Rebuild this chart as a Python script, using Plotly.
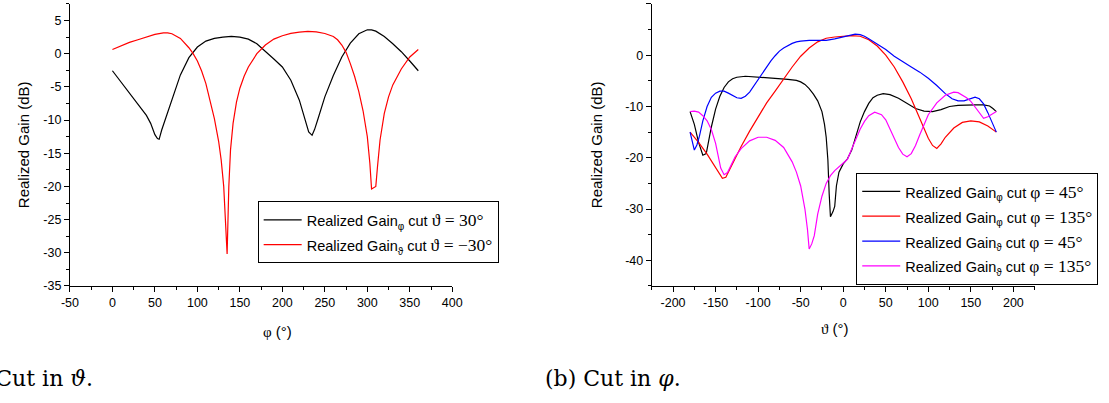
import plotly.graph_objects as go

# ---------------- data: left panel (cut in theta) ----------------
phi_black = [0, 10, 20, 30, 40, 45, 50, 53, 55, 58, 62, 70, 80, 90, 100, 110, 120, 130, 140, 150,
             160, 170, 180, 190, 200, 210, 220, 226, 231, 235, 238, 242, 250, 260, 270, 280, 290,
             300, 305, 310, 320, 330, 340, 350, 360]
gain_black = [-2.57, -4.3, -6.0, -7.6, -9.3, -10.5, -12.2, -12.8, -12.9, -11.5, -10.0, -6.7, -3.2,
              -0.6, 1.0, 1.9, 2.3, 2.5, 2.6, 2.5, 2.2, 1.5, 0.4, -0.8, -2.0, -4.0, -7.0, -9.8,
              -11.8, -12.3, -11.4, -9.8, -6.5, -3.3, -0.5, 1.6, 3.0, 3.6, 3.6, 3.4, 2.6, 1.5, 0.3,
              -1.1, -2.57]

phi_red = [0, 10, 20, 30, 40, 50, 60, 65, 70, 80, 90, 95, 100, 105, 110, 115, 120, 125, 128, 131,
           133, 135, 137, 139, 142, 146, 150, 155, 160, 170, 180, 190, 200, 210, 220, 230, 240,
           250, 260, 265, 270, 275, 280, 285, 290, 295, 300, 303, 305, 310, 312, 315, 320, 325,
           330, 340, 350, 360]
gain_red = [0.64, 1.2, 1.7, 2.1, 2.5, 2.9, 3.15, 3.15, 3.0, 2.3, 0.9, 0.0, -1.1, -2.6, -4.5, -7.0,
            -9.8, -13.2, -16.0, -20.0, -24.5, -30.2, -20.0, -14.5, -10.5, -7.3, -5.2, -3.4, -2.0,
            0.0, 1.3, 2.2, 2.7, 3.05, 3.25, 3.35, 3.3, 3.05, 2.6, 2.1, 1.3, 0.2, -1.5, -3.4, -5.7,
            -8.6, -12.5, -16.5, -20.4, -20.0, -17.0, -13.0, -9.0, -6.5, -4.7, -2.3, -0.5, 0.64]

# ---------------- data: right panel (cut in phi) ----------------
th_k = [-180, -175, -170, -165, -161, -158, -155, -150, -145, -140, -135, -130, -125, -115, -105,
        -95, -85, -75, -65, -55, -50, -45, -40, -35, -30, -25, -22, -20, -18, -16.5, -15, -12,
        -10, -8, -5, 0, 5, 10, 15, 20, 25, 30, 35, 40, 47, 55, 65, 75, 85, 95, 105, 115, 125,
        135, 145, 155, 165, 172, 176, 180]
g_k = [-11, -13.5, -17, -19.5, -19.2, -16.5, -14.0, -10.5, -8.0, -6.3, -5.2, -4.6, -4.3, -4.1,
       -4.2, -4.4, -4.5, -4.6, -4.7, -4.9, -5.2, -5.7, -6.5, -7.6, -8.9, -11.0, -13.5, -16.0,
       -20.5, -27, -31.5, -30.5, -29.5, -25.5, -22.8, -21.2, -20.2, -18.5, -15.5, -13.0, -11.0,
       -9.4, -8.3, -7.8, -7.5, -7.7, -8.4, -9.4, -10.4, -10.9, -11.0, -10.6, -10.0, -9.8, -9.7,
       -9.7, -9.7, -9.9, -10.4, -11]

th_r = [-180, -170, -160, -150, -145, -142, -138, -134, -130, -125, -120, -110, -100, -90, -80,
        -70, -60, -50, -40, -30, -20, -10, 0, 10, 20, 30, 40, 50, 60, 70, 80, 90, 100, 105, 110,
        115, 120, 130, 140, 150, 160, 170, 180]
g_r = [-15, -17, -19.3, -21.8, -23.3, -24, -23.8, -22.5, -21, -19.3, -17.8, -14.8, -12.0, -9.3,
       -7.0, -4.6, -2.3, -0.2, 1.4, 2.6, 3.3, 3.55, 3.7, 3.8, 3.7, 3.0, 1.8, 0.0, -2.3, -5.2,
       -8.5, -12.3, -16.2, -17.6, -18.2, -17.3, -16.0, -14.2, -13.1, -12.8, -13.0, -13.8, -15]

th_b = [-180, -177, -175, -172, -169, -165, -160, -155, -150, -145, -140, -135, -130, -125, -120,
        -115, -110, -105, -100, -95, -90, -85, -80, -75, -70, -65, -60, -55, -50, -40, -30, -20,
        -10, 0, 10, 14, 20, 25, 30, 40, 50, 60, 70, 80, 90, 100, 110, 120, 128, 135, 142, 150,
        155, 160, 165, 170, 175, 180]
g_b = [-15, -17, -18.5, -17.5, -15.8, -12.8, -10.0, -8.2, -7.4, -7.0, -7.0, -7.4, -7.9, -8.3,
       -8.4, -8.0, -7.2, -6.0, -4.7, -3.4, -2.2, -1.1, -0.1, 0.8, 1.4, 1.9, 2.3, 2.6, 2.75, 2.9,
       2.9, 2.9, 3.2, 3.6, 4.0, 4.1, 4.0, 3.7, 3.2, 2.2, 1.1, -0.2, -1.3, -2.3, -3.3, -4.5, -5.9,
       -7.5, -8.5, -8.9, -8.9, -8.4, -8.2, -8.5, -9.5, -11.2, -13.2, -15]

th_m = [-180, -175, -170, -165, -160, -155, -150, -147, -144, -140, -136, -132, -127, -120, -110,
        -100, -90, -80, -70, -60, -55, -50, -45, -42, -40, -37, -34, -30, -25, -20, -15, -10, -5,
        0, 5, 10, 15, 20, 25, 30, 37, 45, 50, 55, 60, 65, 70, 75, 80, 85, 90, 95, 100, 110, 120,
        130, 135, 145, 150, 155, 160, 165, 170, 175, 180]
g_m = [-11, -10.9, -11.1, -11.8, -12.8, -14.5, -17.2, -19.5, -22.0, -23.3, -22.9, -21.5, -19.8,
       -18.2, -16.7, -16.0, -16.0, -16.6, -18.0, -20.8, -22.8, -25.5, -30, -34, -37.8, -36.8,
       -35.2, -31.0, -27.5, -25.0, -23.5, -22.5, -21.8, -21.0, -20.3, -18.3, -16.3, -14.4, -12.9,
       -11.8, -11.1, -11.6, -12.6, -14.3, -16.2, -18.0, -19.3, -19.8, -19.2, -17.6, -15.5, -13.4,
       -11.6, -9.3, -7.8, -7.2, -7.3, -8.3, -9.0, -10.1, -11.3, -12.3, -12.0, -11.5, -11]

# ---------------- tick labels ----------------
x1_ticks = [-50, 0, 50, 100, 150, 200, 250, 300, 350, 400]
x1_text = ["-50", "0", "50", "100", "150", "200", "250", "300", "350", "400"]
y1_ticks = [-35, -30, -25, -20, -15, -10, -5, 0, 5]
y1_text = ["-35", "-30", "-25", "-20", "-15", "-10", "-5", "0", "5"]
x2_ticks = [-200, -150, -100, -50, 0, 50, 100, 150, 200]
x2_text = ["-200", "-150", "-100", "-50", "0", "50", "100", "150", "200"]
y2_ticks = [-40, -30, -20, -10, 0, 10]
y2_text = ["-40", "-30", "-20", "-10", "0", "10"]

SANS = "Liberation Sans"
SERIF = "Liberation Serif"
W, H = 1109, 403


def sp(t, size=None):
    st = f"font-family:{SERIF}"
    if size:
        st += f";font-size:{size}px"
    return f"<span style='{st}'>{t}</span>"


def ss(t, size=14.5):
    return f"<span style='font-size:{size}px'>{t}</span>"


def sub(t):
    return f"<sub><span style='font-size:10px'>{t}</span></sub>"


def label(sub_sym, cut_text):
    return ss("Realized Gain") + sub(sub_sym) + ss(" cut ") + sp(cut_text, 17.5)


fig = go.Figure()
lw = 1.2
fig.add_trace(go.Scatter(x=phi_black, y=gain_black, mode="lines", line=dict(color="black", width=lw),
                         name=label("φ", "ϑ = 30°"), legend="legend", xaxis="x", yaxis="y"))
fig.add_trace(go.Scatter(x=phi_red, y=gain_red, mode="lines", line=dict(color="#ff0000", width=lw),
                         name=label("ϑ", "ϑ = −30°"), legend="legend", xaxis="x", yaxis="y"))
fig.add_trace(go.Scatter(x=th_k, y=g_k, mode="lines", line=dict(color="black", width=lw),
                         name=label("φ", "φ = 45°"), legend="legend2", xaxis="x2", yaxis="y2"))
fig.add_trace(go.Scatter(x=th_r, y=g_r, mode="lines", line=dict(color="#ff0000", width=lw),
                         name=label("φ", "φ = 135°"), legend="legend2", xaxis="x2", yaxis="y2"))
fig.add_trace(go.Scatter(x=th_b, y=g_b, mode="lines", line=dict(color="#0000ff", width=lw),
                         name=label("ϑ", "φ = 45°"), legend="legend2", xaxis="x2", yaxis="y2"))
fig.add_trace(go.Scatter(x=th_m, y=g_m, mode="lines", line=dict(color="#ff00ff", width=lw),
                         name=label("ϑ", "φ = 135°"), legend="legend2", xaxis="x2", yaxis="y2"))

ydom = [(H - 291) / H, (H - 4) / H]
axis_common = dict(showline=True, linecolor="black", linewidth=1, showgrid=False, zeroline=False,
                   ticks="outside", ticklen=5, tickwidth=1, tickcolor="black",
                   tickfont=dict(family=SANS, size=12.5, color="black"))

fig.update_layout(
    width=W, height=H,
    margin=dict(l=0, r=0, t=0, b=0),
    paper_bgcolor="white", plot_bgcolor="white",
    xaxis=dict(domain=[62 / W, 451 / W], range=[-50, 400], anchor="y",
               tickvals=x1_ticks, ticktext=x1_text,
               minor=dict(dtick=25, tick0=0, ticks="outside", ticklen=3, tickcolor="black"),
               **axis_common),
    yaxis=dict(domain=ydom, range=[-35, 7.5], anchor="x",
               tickvals=y1_ticks, ticktext=y1_text,
               minor=dict(dtick=2.5, tick0=0, ticks="outside", ticklen=3, tickcolor="black"),
               **axis_common),
    xaxis2=dict(domain=[654 / W, 1043.5 / W], range=[-225, 225], anchor="y2",
                tickvals=x2_ticks, ticktext=x2_text,
                minor=dict(dtick=25, tick0=0, ticks="outside", ticklen=3, tickcolor="black"),
                **axis_common),
    yaxis2=dict(domain=ydom, range=[-45, 10], anchor="x2",
                tickvals=y2_ticks, ticktext=y2_text,
                minor=dict(dtick=5, tick0=0, ticks="outside", ticklen=3, tickcolor="black"),
                **axis_common),
    legend=dict(x=253 / W, y=(H - 205) / H, xanchor="left", yanchor="top",
                bordercolor="black", borderwidth=1, bgcolor="white", itemwidth=38,
                font=dict(family=SANS, size=16.8, color="black"), tracegroupgap=0),
    legend2=dict(x=862 / W, y=(H - 176) / H, xanchor="left", yanchor="top",
                 bordercolor="black", borderwidth=1, bgcolor="white", itemwidth=38,
                 font=dict(family=SANS, size=16.8, color="black"), tracegroupgap=0),
    showlegend=True,
)

ann_font = dict(family=SANS, size=15, color="black")
annotations = [
    dict(text="Realized Gain (dB)", x=15.5 / W, y=(H - 147.5) / H, textangle=-90, font=ann_font),
    dict(text="Realized Gain (dB)", x=598.5 / W, y=(H - 147.5) / H, textangle=-90, font=ann_font),
    dict(text=sp("φ") + " (°)", x=273 / W, y=(H - 337) / H, font=ann_font),
    dict(text=sp("ϑ") + " (°)", x=840 / W, y=(H - 334) / H, font=ann_font),
    dict(text="(a) Cut in <i>ϑ</i>.", x=87 / W, y=(H - 385) / H, xanchor="right",
         font=dict(family="DejaVu Serif", size=22, color="black")),
    dict(text="(b) Cut in <i>φ</i>.", x=543 / W, y=(H - 385) / H, xanchor="left",
         font=dict(family="DejaVu Serif", size=22, color="black")),
]
for a in annotations:
    a.setdefault("xanchor", "center")
    a.update(xref="paper", yref="paper", showarrow=False, yanchor="middle")
fig.update_layout(annotations=annotations)

fig.write_html("out.html")
